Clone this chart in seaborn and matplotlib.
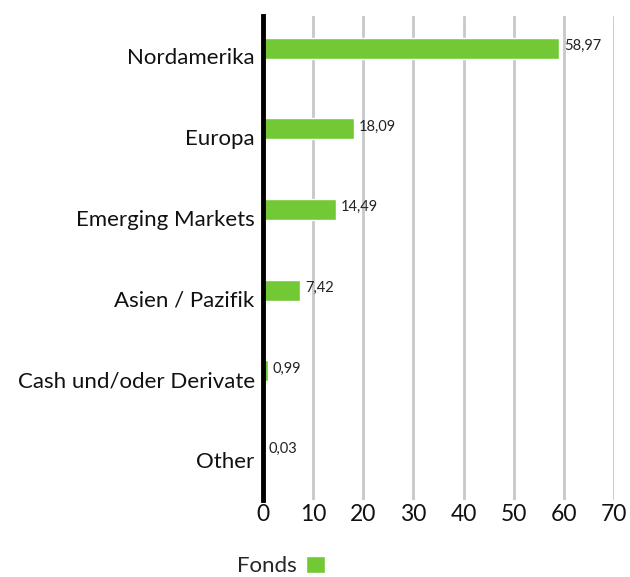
import numpy as np
import pandas as pd
import seaborn as sns
import matplotlib.pyplot as plt
from matplotlib.patches import Patch

categories = ["Nordamerika", "Europa", "Emerging Markets", "Asien / Pazifik",
              "Cash und/oder Derivate", "Other"]
fonds = [58.97, 18.09, 14.49, 7.42, 0.99, 0.03]
xticks = [0, 10, 20, 30, 40, 50, 60, 70]

sns.set_theme(style="white")
plt.rcParams['font.family'] = ['Lato', 'DejaVu Sans']

green = "#73c935"
df = pd.DataFrame({"Region": categories, "Fonds": fonds})

fig = plt.figure(figsize=(6.3, 5.77), dpi=100)
ax = fig.add_axes([263 / 630, 1 - 500 / 577, (614 - 263) / 630, (500 - 16) / 577])

f = sns.barplot(data=df, y="Region", x="Fonds", orient="h", color=green,
                width=0.26, saturation=1, ax=ax)
# bars sit a little above the band centre
for p in f.patches:
    p.set_y(p.get_y() - 0.1)

for i, v in enumerate(fonds):
    f.text(v + 1.0, i - 0.13, f"{v:.2f}".replace(".", ","), fontsize=10.5,
           va="center", ha="left", color="#222222")

f.set_xlim(0, 70)
f.set_ylim(len(categories) - 0.5, -0.5)
f.set_xticks(xticks)
f.xaxis.grid(True, color="#c8c8c8", linewidth=2)
f.set_axisbelow(True)
f.set_xlabel("")
f.set_ylabel("")
f.tick_params(axis="x", labelsize=16.5, length=0, pad=3, colors="#111111")
f.tick_params(axis="y", labelsize=16, length=0, pad=6, colors="#111111")
for s in ["top", "right", "bottom"]:
    f.spines[s].set_visible(False)
f.spines["left"].set_linewidth(3.5)
f.spines["left"].set_color("black")
f.spines["left"].set_zorder(5)

fig.legend(handles=[Patch(facecolor=green, label="Fonds")], loc="center",
           bbox_to_anchor=(281 / 630, 1 - 566 / 577), frameon=False,
           markerfirst=False, fontsize=16, handlelength=0.85, handleheight=0.85,
           handletextpad=0.4)

plt.savefig("out.png", dpi=100)
